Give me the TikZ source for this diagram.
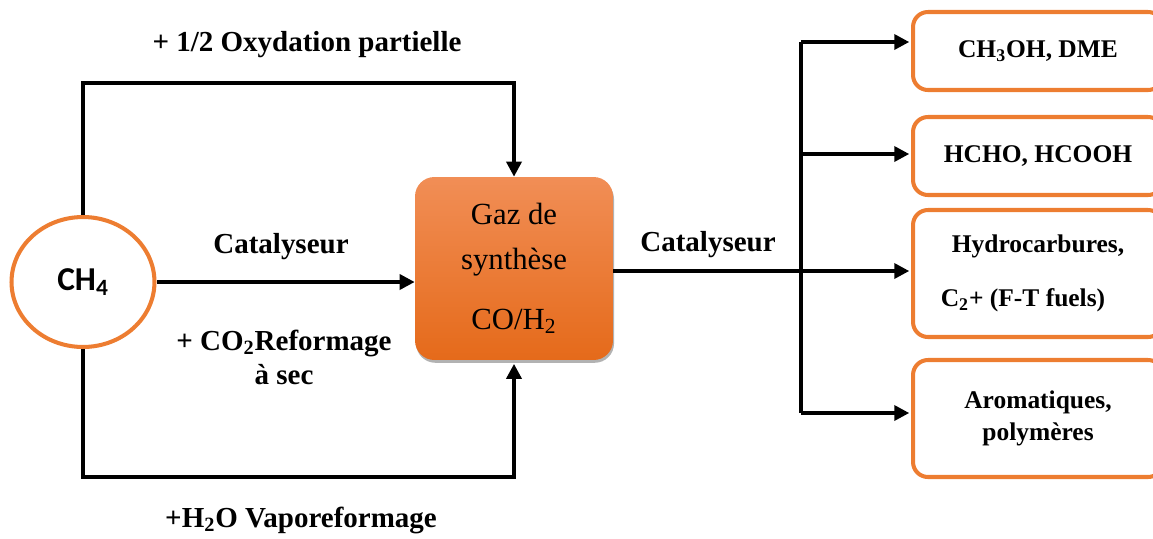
\documentclass[tikz,border=0pt]{standalone}
\usepackage{fontspec}
\setmainfont{Liberation Serif}
\newfontfamily\calfont{Carlito}
\usetikzlibrary{arrows.meta,shapes.geometric,shadows}
\definecolor{orgline}{RGB}{237,125,49}
\definecolor{orgtop}{RGB}{241,142,86}
\definecolor{orgbot}{RGB}{229,106,26}
\begin{document}
\begin{tikzpicture}[x=0.02cm,y=-0.02cm,
  conn/.style={line width=2pt,-{Triangle[length=8.5pt,width=8.5pt]}},
  plainline/.style={line width=2pt},
  lbl/.style={font=\bfseries\fontsize{16.5}{19.3}\selectfont,align=center,inner sep=0pt},
  prod/.style={draw=orgline,line width=2.3pt,rounded corners=8.5pt,minimum width=5cm,
    align=center,inner sep=0pt,font=\bfseries\fontsize{14.5}{18}\selectfont},
]
\clip (0,0) rectangle (1153,538);

% source
\node[ellipse,draw=orgline,line width=2.3pt,minimum width=2.86cm,minimum height=2.6cm,inner sep=0pt,
  font=\calfont\bfseries\fontsize{19}{22}\selectfont] (ch4) at (83,282) {CH\textsubscript{4}};

% syngas box
\node[rounded corners=11pt,top color=orgtop,bottom color=orgbot,
  drop shadow={shadow xshift=0.6pt,shadow yshift=-1.6pt,fill=black!55,opacity=0.55},
  minimum width=3.96cm,minimum height=3.66cm,align=center,inner sep=0pt,
  font=\fontsize{17.5}{25.5}\selectfont] (gaz) at (514,268.5)
  {Gaz de\\synthèse\\[8.5pt]CO/H\textsubscript{2}};

% products
\node[prod,minimum height=1.56cm] (b1) at (1038,51) {CH\textsubscript{3}OH, DME};
\node[prod,minimum height=1.56cm] (b2) at (1038,156) {HCHO, HCOOH};
\node[prod,minimum height=2.54cm,font=\bfseries\fontsize{14.5}{30.6}\selectfont] (b3) at (1038,273.5)
  {Hydrocarbures,\\C\textsubscript{2}+ (F-T fuels)\hspace*{0.6cm}};
\node[prod,minimum height=2.34cm] (b4) at (1038,418.5) {Aromatiques,\\polymères};

% left connectors
\coordinate (topY) at (0,83);
\coordinate (botY) at (0,477);
\draw[conn] (ch4.north) |- (topY -| gaz.north) -- (gaz.north);
\draw[conn] (ch4.south) |- (botY -| gaz.south) -- ([yshift=-2pt]gaz.south);
\draw[conn] (ch4.east) -- (gaz.west |- ch4.east);

% right connectors
\coordinate (j1) at (801,42);
\coordinate (j2) at (801,154);
\coordinate (j3) at (801,271);
\coordinate (j4) at (801,413);
\draw[plainline] (j1) -- (j4);
\draw[conn] (gaz.east |- j3) -- ([xshift=-1pt]b3.west |- j3);
\draw[conn] (j1) -- ([xshift=-1pt]b1.west |- j1);
\draw[conn] (j2) -- ([xshift=-1pt]b2.west |- j2);
\draw[conn] (j4) -- ([xshift=-1pt]b4.west |- j4);

% labels
\node[lbl] (l1) at (307,45) {+ 1/2 Oxydation partielle};
\node[lbl] (l2) at (281,247) {Catalyseur};
\node[lbl] (l3) at (284,357) {+ CO\textsubscript{2}Reformage\\à sec};
\node[lbl] (l4) at (301,520) {+H\textsubscript{2}O Vaporeformage};
\node[lbl] (l5) at (708,245) {Catalyseur};
\end{tikzpicture}
\end{document}
